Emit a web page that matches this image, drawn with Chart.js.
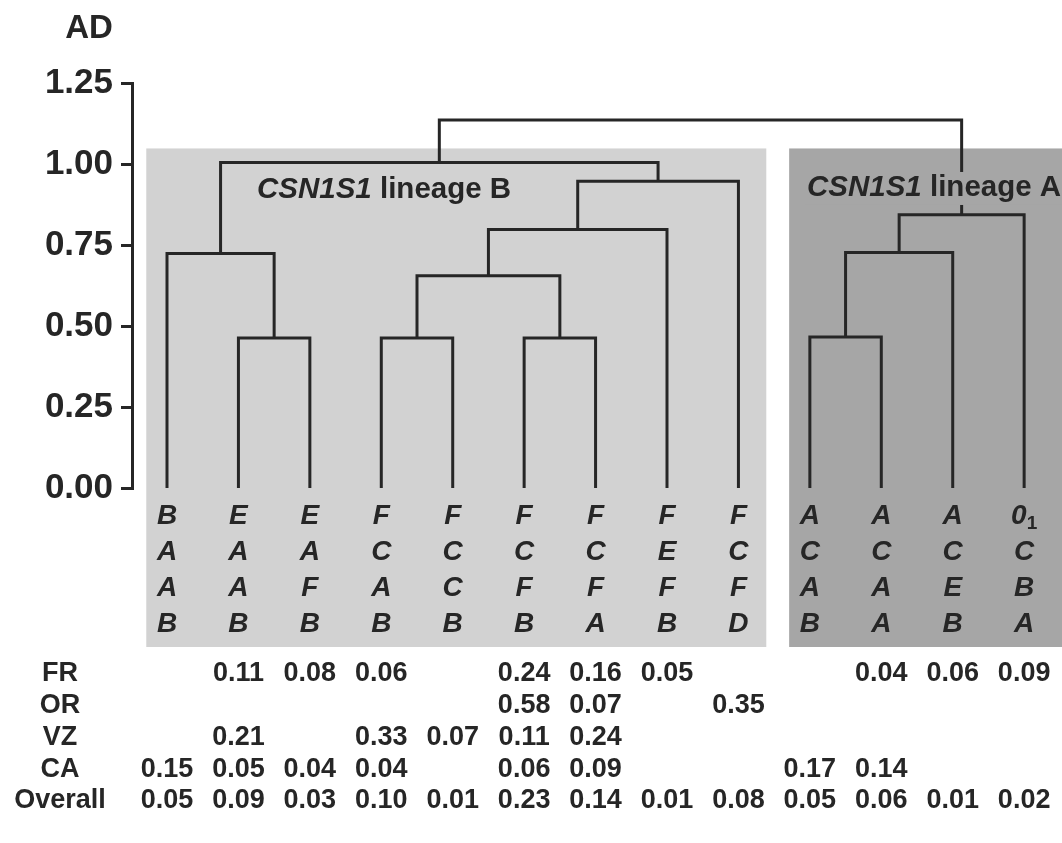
<!DOCTYPE html>
<html><head><meta charset="utf-8">
<script src="https://cdn.jsdelivr.net/npm/chart.js@4.4.1/dist/chart.umd.min.js"></script>
<style>html,body{margin:0;padding:0;background:#fff;overflow:hidden}canvas{display:block}</style>
</head><body>
<canvas id="c" width="1062" height="843"></canvas>
<script>
// ---- DATA ----
// haplotype of each leaf (four loci, read top to bottom); "0_1" = 0 with subscript 1
const haplotypes = [
  ['B','A','A','B'], ['E','A','A','B'], ['E','A','F','B'], ['F','C','A','B'], ['F','C','C','B'],
  ['F','C','F','B'], ['F','C','F','A'], ['F','E','F','B'], ['F','C','F','D'],
  ['A','C','A','B'], ['A','C','A','A'], ['A','C','E','B'], ['0_1','C','B','A']
];
// dendrogram merges: nodes 0..12 are leaves, merge k creates node 13+k
const mergeLeft   = [1, 0, 3, 5, 15, 17, 18, 14, 9, 21, 22, 20];
const mergeRight  = [2, 13, 4, 6, 16, 7, 8, 19, 10, 11, 12, 23];
const mergeHeight = [0.463, 0.724, 0.463, 0.463, 0.655, 0.798, 0.947, 1.005, 0.466, 0.727, 0.843, 1.136];
const yTickValues = [0, 0.25, 0.5, 0.75, 1.0, 1.25];
const yAxisTitle = 'AD';
// lineages: gene, name, first leaf, last leaf
const lineageGene = ['CSN1S1', 'CSN1S1'];
const lineageName = [' lineage B', ' lineage A'];
const lineageFirstLeaf = [0, 9];
const lineageLastLeaf = [8, 12];
// frequency table
const tableRows = ['FR', 'OR', 'VZ', 'CA', 'Overall'];
const freqFR      = [null, 0.11, 0.08, 0.06, null, 0.24, 0.16, 0.05, null, null, 0.04, 0.06, 0.09];
const freqOR      = [null, null, null, null, null, 0.58, 0.07, null, 0.35, null, null, null, null];
const freqVZ      = [null, 0.21, null, 0.33, 0.07, 0.11, 0.24, null, null, null, null, null, null];
const freqCA      = [0.15, 0.05, 0.04, 0.04, null, 0.06, 0.09, null, null, 0.17, 0.14, null, null];
const freqOverall = [0.05, 0.09, 0.03, 0.10, 0.01, 0.23, 0.14, 0.01, 0.08, 0.05, 0.06, 0.01, 0.02];
const tableValues = [freqFR, freqOR, freqVZ, freqCA, freqOverall];

// ---- STYLE ----
const FONT = "'Liberation Sans', Arial, Helvetica, sans-serif";
const INK = '#262626';
const BOX_COLORS = ['#d2d2d2', '#a6a6a6'];
const style = {
  boxLeftPad: 0.29, boxRightPad: 0.39, boxTop: 1.048, boxBottomPx: 647,
  lineageLabelX: [1.26, 8.96], lineageLabelY: [0.92, 0.926], lineageFont: 29.5,
  leafRowsPx: [516, 552, 588, 624],
  tableRowsPx: [674, 706, 738, 770, 801],
  rowLabelX: 60
};

// ---- build dendrogram segments ----
const nodeX = haplotypes.map((_, i) => i);
const nodeY = haplotypes.map(() => 0);
const datasets = [];
mergeLeft.forEach((l, k) => {
  const r = mergeRight[k], h = mergeHeight[k];
  nodeX.push((nodeX[l] + nodeX[r]) / 2);
  nodeY.push(h);
  datasets.push({
    data: [{x: nodeX[l], y: nodeY[l]}, {x: nodeX[l], y: h}, {x: nodeX[r], y: h}, {x: nodeX[r], y: nodeY[r]}],
    borderColor: INK, borderWidth: 3, pointRadius: 0, fill: false, tension: 0, showLine: true,
    borderJoinStyle: 'miter', borderCapStyle: 'butt', clip: false
  });
});

const deco = {
  id: 'deco',
  beforeDatasetsDraw(chart) {
    const {ctx, scales: {x, y}} = chart;
    ctx.save();
    lineageFirstLeaf.forEach((f, i) => {
      const x0 = x.getPixelForValue(f - style.boxLeftPad);
      const x1 = i === lineageFirstLeaf.length - 1 ? chart.width + 5 : x.getPixelForValue(lineageLastLeaf[i] + style.boxRightPad);
      const y0 = y.getPixelForValue(style.boxTop);
      ctx.fillStyle = BOX_COLORS[i];
      ctx.fillRect(x0, y0, x1 - x0, style.boxBottomPx - y0);
    });
    ctx.restore();
  },
  afterDatasetsDraw(chart) {
    const {ctx, scales: {x, y}} = chart;
    ctx.save();
    ctx.fillStyle = INK;
    ctx.textBaseline = 'middle';
    // axis title
    ctx.font = `bold 33px ${FONT}`;
    ctx.textAlign = 'center';
    ctx.fillText(yAxisTitle, 89, 29);
    // lineage labels
    const lf = style.lineageFont;
    lineageGene.forEach((g, i) => {
      const px = x.getPixelForValue(style.lineageLabelX[i]);
      const py = y.getPixelForValue(style.lineageLabelY[i]);
      ctx.font = `italic bold ${lf}px ${FONT}`;
      const w1 = ctx.measureText(g).width;
      ctx.font = `bold ${lf}px ${FONT}`;
      const w2 = ctx.measureText(lineageName[i]).width;
      ctx.fillStyle = BOX_COLORS[i];
      ctx.fillRect(px - 2, py - 16, w1 + w2 + 4, 33);
      ctx.fillStyle = INK;
      ctx.textAlign = 'left';
      ctx.font = `italic bold ${lf}px ${FONT}`;
      ctx.fillText(g, px, py);
      ctx.font = `bold ${lf}px ${FONT}`;
      ctx.fillText(lineageName[i], px + w1, py);
    });
    // leaf haplotype labels
    haplotypes.forEach((hap, i) => {
      const px = x.getPixelForValue(i);
      hap.forEach((lab, r) => {
        const py = style.leafRowsPx[r];
        if (lab.includes('_')) {
          const [base, sub] = lab.split('_');
          ctx.font = `italic bold 28px ${FONT}`;
          const wb = ctx.measureText(base).width;
          ctx.font = `bold 19px ${FONT}`;
          const ws = ctx.measureText(sub).width;
          const start = px - (wb + ws) / 2;
          ctx.textAlign = 'left';
          ctx.font = `italic bold 28px ${FONT}`;
          ctx.fillText(base, start, py);
          ctx.font = `bold 19px ${FONT}`;
          ctx.fillText(sub, start + wb, py + 8);
        } else {
          ctx.textAlign = 'center';
          ctx.font = `italic bold 28px ${FONT}`;
          ctx.fillText(lab, px, py);
        }
      });
    });
    // frequency table
    ctx.font = `bold 27px ${FONT}`;
    ctx.textAlign = 'center';
    tableRows.forEach((name, r) => {
      const py = style.tableRowsPx[r];
      ctx.fillText(name, style.rowLabelX, py);
      tableValues[r].forEach((v, i) => {
        if (v === null) return;
        ctx.fillText(v.toFixed(2), x.getPixelForValue(i), py);
      });
    });
    ctx.restore();
  }
};

new Chart(document.getElementById('c'), {
  type: 'scatter',
  data: { datasets: datasets },
  options: {
    responsive: false, animation: false, devicePixelRatio: 1,
    layout: { padding: { top: 83, bottom: 355, left: 0, right: 0 } },
    plugins: { legend: { display: false }, tooltip: { enabled: false } },
    scales: {
      x: { type: 'linear', min: -0.49, max: 12.53, display: false },
      y: {
        type: 'linear', min: 0, max: 1.25,
        afterBuildTicks: s => { s.ticks = yTickValues.map(v => ({value: v})); },
        afterFit: s => { s.width = 132; },
        ticks: { callback: v => Number(v).toFixed(2), font: { family: FONT, size: 35, weight: 'bold' }, color: INK, padding: 8 },
        grid: { drawOnChartArea: false, drawTicks: true, tickLength: 11, color: INK, lineWidth: 3 },
        border: { display: true, color: INK, width: 3 }
      }
    }
  },
  plugins: [deco]
});
</script>
</body></html>
